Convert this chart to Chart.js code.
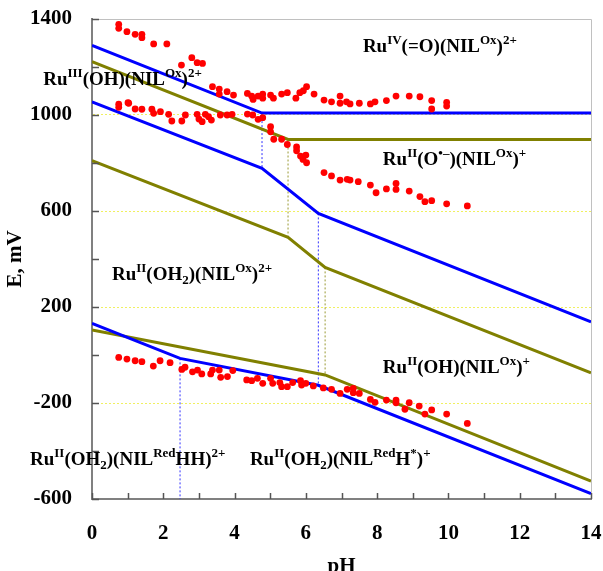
<!DOCTYPE html>
<html>
<head>
<meta charset="utf-8">
<script src="https://cdn.jsdelivr.net/npm/chart.js@4/dist/chart.umd.min.js"></script>
<style>
  html, body { margin: 0; padding: 0; background: #fff; }
  #wrap { width: 603px; height: 571px; }
</style>
</head>
<body>
<div id="wrap"><canvas id="myChart" width="603" height="571"></canvas></div>
<script>
// measured points (pH, E in mV)
var upperPH = [0.75,0.75,0.98,1.21,1.40,1.40,1.73,2.10,2.51,2.80,2.95,3.10,3.38,3.57,3.57,3.79,3.97,4.36,4.48,4.52,4.66,4.79,4.79,5.01,5.09,5.32,5.48,5.72,5.83,5.93,6.02,6.23,6.51,6.72,6.96,6.96,7.14,7.24,7.50,7.81,7.94,8.26,8.53,8.90,9.20,9.53,9.53,9.95,9.95];
var upperE = [1378,1361,1347,1336,1336,1322,1296,1296,1208,1239,1218,1215,1118,1108,1087,1097,1083,1090,1079,1065,1079,1087,1070,1083,1070,1087,1093,1070,1093,1101,1118,1087,1062,1055,1079,1049,1055,1046,1049,1046,1055,1060,1079,1079,1076,1060,1025,1053,1037];

var midPH = [0.75,0.75,1.01,1.03,1.21,1.40,1.68,1.73,1.92,2.15,2.24,2.52,2.62,2.95,3.00,3.09,3.18,3.27,3.35,3.60,3.79,3.93,4.36,4.51,4.66,4.79,5.01,5.01,5.10,5.32,5.48,5.74,5.74,5.85,5.92,6.00,6.02,6.51,6.72,6.96,7.16,7.24,7.47,7.81,7.97,8.26,8.53,8.53,8.90,9.20,9.34,9.53,9.95,10.53];
var midE = [1045,1032,1051,1049,1025,1024,1024,1007,1014,1003,975,975,1000,1003,983,972,1003,993,979,1000,1000,1003,1004,1000,982,989,951,930,899,899,877,867,851,829,815,833,801,760,746,729,732,729,722,708,676,692,715,690,683,660,639,643,630,621];

var lowPH = [0.75,0.98,1.21,1.40,1.72,1.91,2.19,2.52,2.61,2.82,2.96,3.08,3.33,3.38,3.57,3.61,3.80,3.95,4.34,4.48,4.64,4.79,5.01,5.07,5.27,5.32,5.48,5.63,5.85,5.88,6.00,6.21,6.49,6.72,6.96,7.16,7.33,7.33,7.50,7.81,7.94,8.26,8.53,8.53,8.78,8.90,9.18,9.34,9.53,9.95,10.53];
var lowE = [-10,-17,-24,-28,-46,-24,-32,-60,-51,-70,-63,-79,-79,-63,-63,-93,-90,-65,-104,-107,-97,-118,-97,-118,-115,-132,-132,-115,-107,-125,-118,-129,-137,-143,-160,-143,-139,-157,-160,-185,-197,-188,-188,-199,-226,-199,-213,-246,-229,-246,-285];

// Pourbaix lines
var blue1PH = [0, 4.77, 14],        blue1E = [1290, 1008, 1008];
var olive1PH = [0, 5.5, 14],        olive1E = [1222, 898, 898];
var blue2PH = [0, 4.77, 6.35, 14],  blue2E = [1055, 778, 590, 138];
var olive2PH = [0, 5.5, 6.54, 14],  olive2E = [810, 490, 365, -74];
var blue3PH = [0, 2.47, 6.35, 14],  blue3E = [132, -14, -126, -578];
var olive3PH = [0, 6.54, 14],       olive3E = [104, -83, -525];

// dotted drop lines: pH, E from, E to
var dropPH = [4.77, 5.5, 6.35, 6.54, 2.47];
var dropTop = [1008, 898, 590, 365, -14];
var dropBot = [778, 490, -126, -83, -600];
var dropCol = ['#3333ff', '#999933', '#3333ff', '#999933', '#3333ff'];

var xTicks = [0, 2, 4, 6, 8, 10, 12, 14];
var yTicks = [-600, -200, 200, 600, 1000, 1400];

// labels
var labelText = [
    "Ru^{IV}(=O)(NIL^{Ox})^{2+}",
    "Ru^{III}(OH)(NIL^{Ox})^{2+}",
    "Ru^{II}(O^{\u2022\u2013})(NIL^{Ox})^{+}",
    "Ru^{II}(OH_{2})(NIL^{Ox})^{2+}",
    "Ru^{II}(OH)(NIL^{Ox})^{+}",
    "Ru^{II}(OH_{2})(NIL^{Red}HH)^{2+}",
    "Ru^{II}(OH_{2})(NIL^{Red}H^{*})^{+}"
];
var labelPH = [7.60, -1.37, 8.16, 0.56, 8.16, -1.74, 4.43];
var labelE = [1262, 1125, 792, 312, -75, -458, -458];

function pts(xs, ys) {
    var out = [];
    for (var i = 0; i < xs.length; i++) out.push({ x: xs[i], y: ys[i] });
    return out;
}

var datasets = [];
datasets.push({
    data: pts(upperPH, upperE).concat(pts(midPH, midE), pts(lowPH, lowE)),
    backgroundColor: '#ff0000', borderColor: '#ff0000',
    pointRadius: 3.4, borderWidth: 0, showLine: false, order: 0
});
var lines = [
    [blue1PH, blue1E, '#0000ff'], [olive1PH, olive1E, '#808000'],
    [blue2PH, blue2E, '#0000ff'], [olive2PH, olive2E, '#808000'],
    [blue3PH, blue3E, '#0000ff'], [olive3PH, olive3E, '#808000']
];
for (var i = 0; i < lines.length; i++) {
    datasets.push({
        data: pts(lines[i][0], lines[i][1]),
        borderColor: lines[i][2], borderWidth: 3, showLine: true,
        pointRadius: 0, fill: false, order: 1
    });
}
for (var i = 0; i < dropPH.length; i++) {
    datasets.push({
        data: [{ x: dropPH[i], y: dropTop[i] }, { x: dropPH[i], y: dropBot[i] }],
        borderColor: dropCol[i], borderWidth: 1, borderDash: [2, 2], showLine: true,
        pointRadius: 0, fill: false, order: 2
    });
}

var serif = "'Liberation Serif', 'Times New Roman', serif";

function drawRich(ctx, str, x, y) {
    var parts = str.split(/(\^\{[^}]*\}|_\{[^}]*\})/);
    for (var i = 0; i < parts.length; i++) {
        var p = parts[i];
        if (!p) continue;
        var dy = 0, size = 19, t = p;
        if (p.charAt(0) == '^') { t = p.slice(2, -1); size = 13; dy = -8; }
        else if (p.charAt(0) == '_') { t = p.slice(2, -1); size = 13; dy = 4; }
        ctx.font = 'bold ' + size + 'px ' + serif;
        ctx.fillText(t, x, y + dy);
        x += ctx.measureText(t).width;
    }
}

// no label overhang in layout, chart area comes from the padding only
function noPad(s) {
    s.paddingLeft = 0; s.paddingRight = 0; s.paddingTop = 0; s.paddingBottom = 0;
}

var extras = {
    id: 'extras',
    afterDraw: function (chart) {
        var ctx = chart.ctx;
        var a = chart.chartArea;
        var xs = chart.scales.x, ys = chart.scales.y;
        ctx.save();
        // light frame top / right
        ctx.strokeStyle = '#c0c0c0';
        ctx.lineWidth = 1;
        ctx.beginPath();
        ctx.moveTo(a.left, a.top + 0.5); ctx.lineTo(a.right + 0.5, a.top + 0.5);
        ctx.lineTo(a.right + 0.5, a.bottom);
        ctx.stroke();
        // inward tick marks
        ctx.strokeStyle = '#555555';
        ctx.lineWidth = 1.5;
        ctx.beginPath();
        xs.ticks.forEach(function (t) {
            var px = Math.round(xs.getPixelForValue(t.value)) + 0.5;
            ctx.moveTo(px, a.bottom); ctx.lineTo(px, a.bottom - 6);
        });
        ys.ticks.forEach(function (t) {
            var py = Math.round(ys.getPixelForValue(t.value)) + 0.5;
            ctx.moveTo(a.left, py); ctx.lineTo(a.left + 7, py);
        });
        ctx.stroke();
        // state labels
        ctx.fillStyle = '#000';
        ctx.textBaseline = 'alphabetic';
        ctx.textAlign = 'left';
        for (var i = 0; i < labelText.length; i++) {
            drawRich(ctx, labelText[i], xs.getPixelForValue(labelPH[i]), ys.getPixelForValue(labelE[i]));
        }
        ctx.restore();
    }
};

var ctx = document.getElementById('myChart').getContext('2d');
var myChart = new Chart(ctx, {
    type: 'scatter',
    data: { datasets: datasets },
    options: {
        responsive: false,
        animation: false,
        events: [],
        layout: { padding: { top: 19, right: 12, left: 0, bottom: 0 } },
        plugins: { legend: { display: false }, tooltip: { enabled: false } },
        scales: {
            x: {
                type: 'linear', min: 0, max: 14,
                afterFit: function (s) { s.height = 72; noPad(s); },
                ticks: {
                    stepSize: 1, padding: 22, color: '#000', maxRotation: 0, autoSkip: false,
                    font: { family: serif, size: 21, weight: 'bold' },
                    callback: function (v) { return xTicks.indexOf(v) >= 0 ? String(v) : ''; }
                },
                grid: { drawTicks: false, drawOnChartArea: false },
                border: { color: '#808080', width: 2 },
                title: {
                    display: true, text: 'pH', color: '#000',
                    font: { family: serif, size: 21, weight: 'bold', lineHeight: 1 },
                    padding: { top: 0, bottom: -6 }
                }
            },
            y: {
                type: 'linear', min: -600, max: 1400,
                afterFit: function (s) { s.width = 92; noPad(s); },
                ticks: {
                    stepSize: 200, padding: 20, color: '#000', autoSkip: false,
                    font: { family: serif, size: 21, weight: 'bold' },
                    callback: function (v) { return yTicks.indexOf(v) >= 0 ? String(v) : ''; }
                },
                grid: {
                    drawTicks: false,
                    color: function (c) {
                        var v = c.tick ? c.tick.value : null;
                        return (v == 1000 || v == 600 || v == 200 || v == -200) ? '#f0f060' : 'rgba(0,0,0,0)';
                    },
                    lineWidth: 1
                },
                border: { color: '#808080', width: 2, dash: [2, 2] },
                title: {
                    display: true, text: 'E, mV', color: '#000',
                    font: { family: serif, size: 21, weight: 'bold', lineHeight: 1 },
                    padding: { top: 5, bottom: 0 }
                }
            }
        }
    },
    plugins: [extras]
});
</script>
</body>
</html>
